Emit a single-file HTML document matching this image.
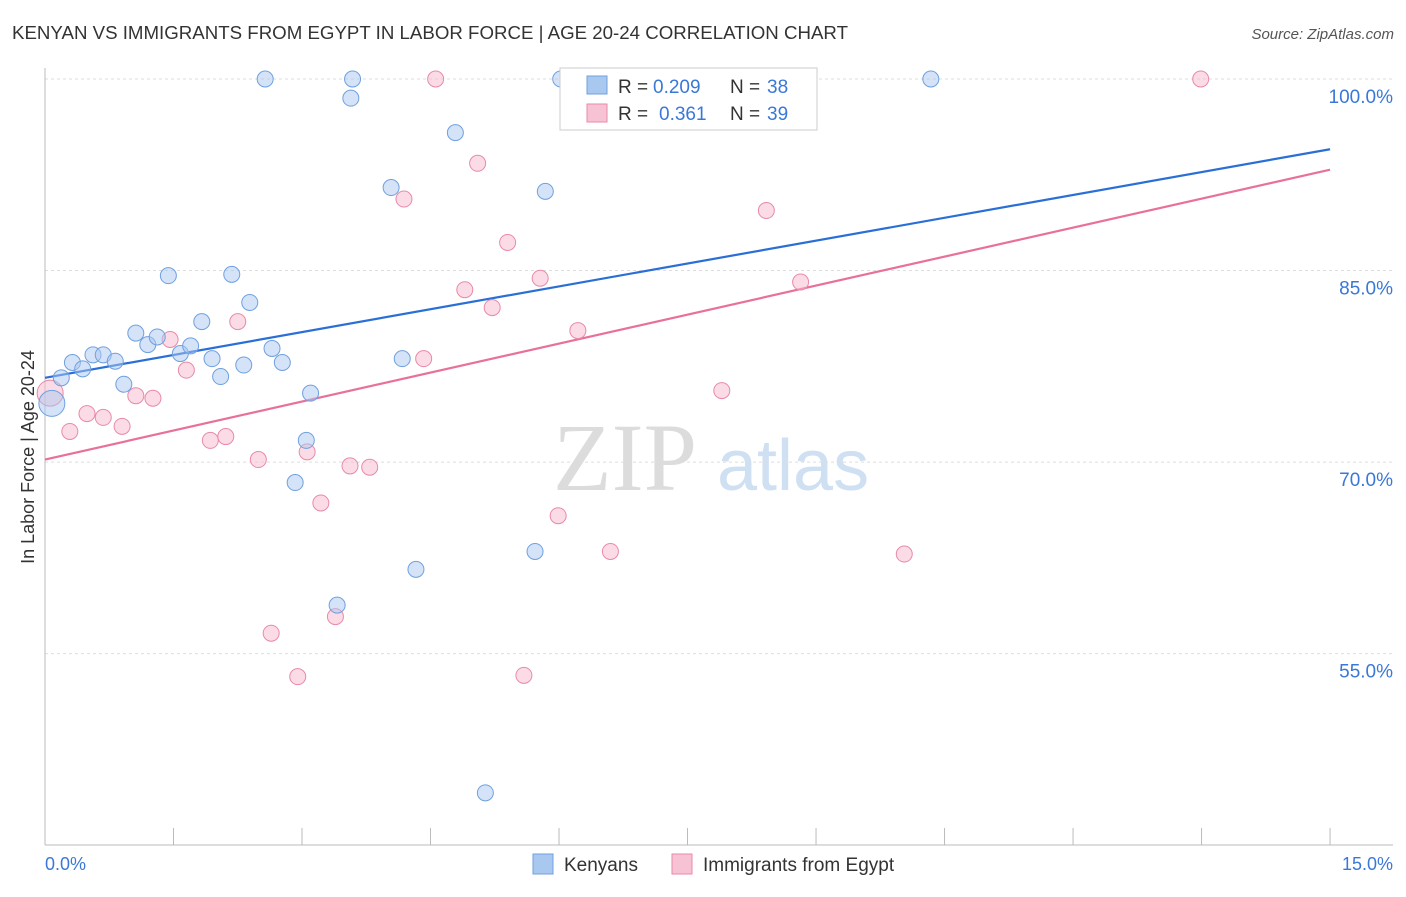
<!DOCTYPE html>
<html><head><meta charset="utf-8"><style>
body{margin:0;background:#fff;font-family:"Liberation Sans",sans-serif;}
</style></head><body>
<svg id="chart" width="1406" height="892" xmlns="http://www.w3.org/2000/svg">
<text x="12" y="39" font-size="18" fill="#333" textLength="836" lengthAdjust="spacingAndGlyphs">KENYAN VS IMMIGRANTS FROM EGYPT IN LABOR FORCE | AGE 20-24 CORRELATION CHART</text>
<text x="1394" y="39" font-size="15" fill="#555" text-anchor="end" font-style="italic">Source: ZipAtlas.com</text>
<g>
<text x="553" y="490" font-size="96" fill="#dcdcdc" font-family="Liberation Serif,serif">ZIP</text>
<text x="717" y="490" font-size="72" fill="#cfe0f3">atlas</text>
</g>
<g id="grid"></g><g id="axes"></g><g id="lines"></g><g id="pts"></g>
<text transform="translate(34,457) rotate(-90)" font-size="18" fill="#333" text-anchor="middle">In Labor Force | Age 20-24</text>
<text x="45" y="870" font-size="18" fill="#3a78d8">0.0%</text>
<text x="1393" y="870" font-size="18" fill="#3a78d8" text-anchor="end">15.0%</text>
<g>
<rect x="560" y="68" width="257" height="62" fill="#fff" stroke="#ccc"/>
<rect x="587" y="76" width="20" height="18" fill="#a9c8f0" stroke="#6fa0e0"/>
<rect x="587" y="104" width="20" height="18" fill="#f7c2d3" stroke="#e88aa8"/>
<text y="93" font-size="19" fill="#333"><tspan x="618">R =</tspan><tspan x="653" fill="#3a78d8">0.209</tspan><tspan x="730">N =</tspan><tspan x="767" fill="#3a78d8">38</tspan></text>
<text y="120" font-size="19" fill="#333"><tspan x="618">R =</tspan><tspan x="659" fill="#3a78d8">0.361</tspan><tspan x="730">N =</tspan><tspan x="767" fill="#3a78d8">39</tspan></text>
</g>
<g>
<rect x="533" y="854" width="20" height="20" fill="#a9c8f0" stroke="#6fa0e0"/>
<text x="564" y="871" font-size="19" fill="#333">Kenyans</text>
<rect x="672" y="854" width="20" height="20" fill="#f7c2d3" stroke="#e88aa8"/>
<text x="703" y="871" font-size="19" fill="#333">Immigrants from Egypt</text>
</g>
</svg>
<script>
const yTicks=[100,85,70,55];
const yTickLabels=["100.0%","85.0%","70.0%","55.0%"];
const xTicks=[0,1.5,3,4.5,6,7.5,9,10.5,12,13.5,15];
const kenX=[0.08,0.19,0.32,0.44,0.56,0.68,0.82,0.92,1.06,1.20,1.31,1.44,1.58,1.70,1.83,1.95,2.05,2.18,2.32,2.39,2.57,2.65,2.77,2.92,3.05,3.10,3.41,3.57,3.59,4.04,4.17,4.33,4.79,5.14,5.72,5.84,6.02,10.34];
const kenY=[74.6,76.6,77.8,77.3,78.4,78.4,77.9,76.1,80.1,79.2,79.8,84.6,78.5,79.1,81.0,78.1,76.7,84.7,77.6,82.5,100,78.9,77.8,68.4,71.7,75.4,58.8,98.5,100,91.5,78.1,61.6,95.8,44.1,63.0,91.2,100,100];
const egyX=[0.06,0.29,0.49,0.68,0.90,1.06,1.26,1.46,1.65,1.93,2.11,2.25,2.49,2.64,2.95,3.06,3.22,3.39,3.56,3.79,4.19,4.42,4.56,4.90,5.05,5.22,5.40,5.59,5.78,5.99,6.22,6.60,6.77,7.00,7.90,8.42,8.82,10.03,13.49];
const egyY=[75.4,72.4,73.8,73.5,72.8,75.2,75.0,79.6,77.2,71.7,72.0,81.0,70.2,56.6,53.2,70.8,66.8,57.9,69.7,69.6,90.6,78.1,100,83.5,93.4,82.1,87.2,53.3,84.4,65.8,80.3,63.0,100,100,75.6,89.7,84.1,62.8,100];
const kenTrend=[76.6,94.5];
const egyTrend=[70.2,92.9];
const NS="http://www.w3.org/2000/svg";
const X=v=>45+v*85.67, Y=v=>79+(100-v)*12.77;
function mk(t,a,p){const e=document.createElementNS(NS,t);for(const k in a)e.setAttribute(k,a[k]);document.getElementById(p).appendChild(e);return e;}
yTicks.forEach((t,i)=>{
 const l=mk('line',{x1:45,x2:1393,y1:Y(t),y2:Y(t),stroke:'#ddd','stroke-dasharray':'3,3'},'grid');
 
 
 const tx=mk('text',{x:1393,y:Y(t)+24,'font-size':19,fill:'#3a78d8','text-anchor':'end'},'grid');
 tx.textContent=yTickLabels[i];
 
 
});
let a=mk('line',{x1:45,x2:45,y1:68,y2:845,stroke:'#bbb'},'axes');


a=mk('line',{x1:45,x2:1393,y1:845,y2:845,stroke:'#bbb'},'axes');


xTicks.forEach(t=>{const l=mk('line',{x1:X(t),x2:X(t),y1:828,y2:845,stroke:'#bbb'},'axes');
 
 });
function pts(xs,ys,fill,stroke,name){xs.forEach((x,i)=>{const c=mk('circle',{cx:X(x),cy:Y(ys[i]),r:i==0?13:8,fill:fill,'fill-opacity':0.5,stroke:stroke,'stroke-width':1},'pts');
 
 });}
pts(egyX,egyY,'#f7b9cd','#e88aa8','egypt-point');
pts(kenX,kenY,'#a9c8f0','#6fa0e0','kenyan-point');
let tl=mk('line',{x1:X(0),x2:X(15),y1:Y(kenTrend[0]),y2:Y(kenTrend[1]),stroke:'#2a6fd6','stroke-width':2.2},'lines');


tl=mk('line',{x1:X(0),x2:X(15),y1:Y(egyTrend[0]),y2:Y(egyTrend[1]),stroke:'#e8709a','stroke-width':2.2},'lines');


</script>
</body></html>
